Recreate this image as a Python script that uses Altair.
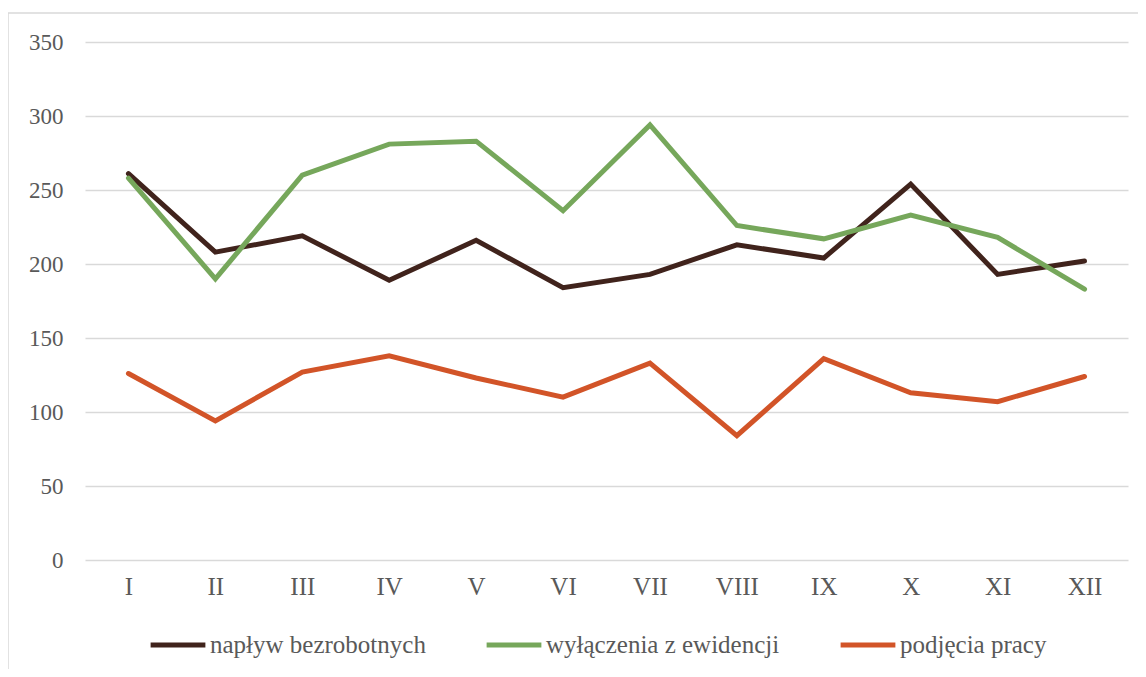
import altair as alt
import pandas as pd

months = ["I", "II", "III", "IV", "V", "VI", "VII", "VIII", "IX", "X", "XI", "XII"]
series_names = ["napływ bezrobotnych", "wyłączenia z ewidencji", "podjęcia pracy"]
naplyw = [261, 208, 219, 189, 216, 184, 193, 213, 204, 254, 193, 202]
wylaczenia = [258, 190, 260, 281, 283, 236, 294, 226, 217, 233, 218, 183]
podjecia = [126, 94, 127, 138, 123, 110, 133, 84, 136, 113, 107, 124]
colors = ["#40231c", "#76a75b", "#d25428"]
y_ticks = [0, 50, 100, 150, 200, 250, 300, 350]

rows = []
for name, vals in zip(series_names, [naplyw, wylaczenia, podjecia]):
    for m, v in zip(months, vals):
        rows.append({"miesiac": m, "seria": name, "wartosc": v})
df = pd.DataFrame(rows)

FONT = "Liberation Serif"
TXT = "#595959"
FRAME = "#d9d9d9"

lines = alt.Chart(df).mark_line(strokeWidth=5, strokeCap="round").encode(
    x=alt.X("miesiac:N", sort=months,
            scale=alt.Scale(type="point", padding=0.5),
            axis=alt.Axis(title=None, labelAngle=0, domain=False, ticks=False, grid=False,
                          labelPadding=14, labelFontSize=25, labelColor=TXT, labelFont=FONT)),
    y=alt.Y("wartosc:Q", scale=alt.Scale(domain=[0, 350], nice=False),
            axis=alt.Axis(title=None, values=y_ticks, domain=False, ticks=False,
                          labelPadding=22, labelFontSize=23, labelColor=TXT, labelFont=FONT,
                          grid=True, gridColor=FRAME, gridWidth=1.5)),
    color=alt.Color("seria:N", sort=series_names,
                    scale=alt.Scale(domain=series_names, range=colors),
                    legend=alt.Legend(title=None, orient="none", direction="horizontal",
                                      legendX=63, legendY=573,
                                      symbolType="stroke", symbolSize=3000, symbolStrokeWidth=5,
                                      labelFontSize=25, labelFont=FONT, labelColor=TXT,
                                      labelLimit=0, labelOffset=2, columnPadding=50,
                                      symbolOffset=0)),
    detail="seria:N",
)

one = pd.DataFrame({"a": [0]})
frame_left = alt.Chart(one).mark_rule(stroke=FRAME, strokeWidth=1.5).encode(
    x=alt.value(-77), y=alt.value(-29), y2=alt.value(700))
frame_top = alt.Chart(one).mark_rule(stroke=FRAME, strokeWidth=1.5).encode(
    x=alt.value(-77), x2=alt.value(1200), y=alt.value(-29))

chart = alt.layer(frame_left, frame_top, lines).properties(
    width=1043, height=518,
    background="white",
    autosize=alt.AutoSizeParams(type="none"),
    padding={"left": 77, "top": 34, "right": 10, "bottom": 109},
).configure(font=FONT).configure_view(
    strokeWidth=0, stroke="transparent"
).configure_axis(domain=False, ticks=False)

chart.save("out.html", embed_options={"renderer": "svg", "actions": False})
